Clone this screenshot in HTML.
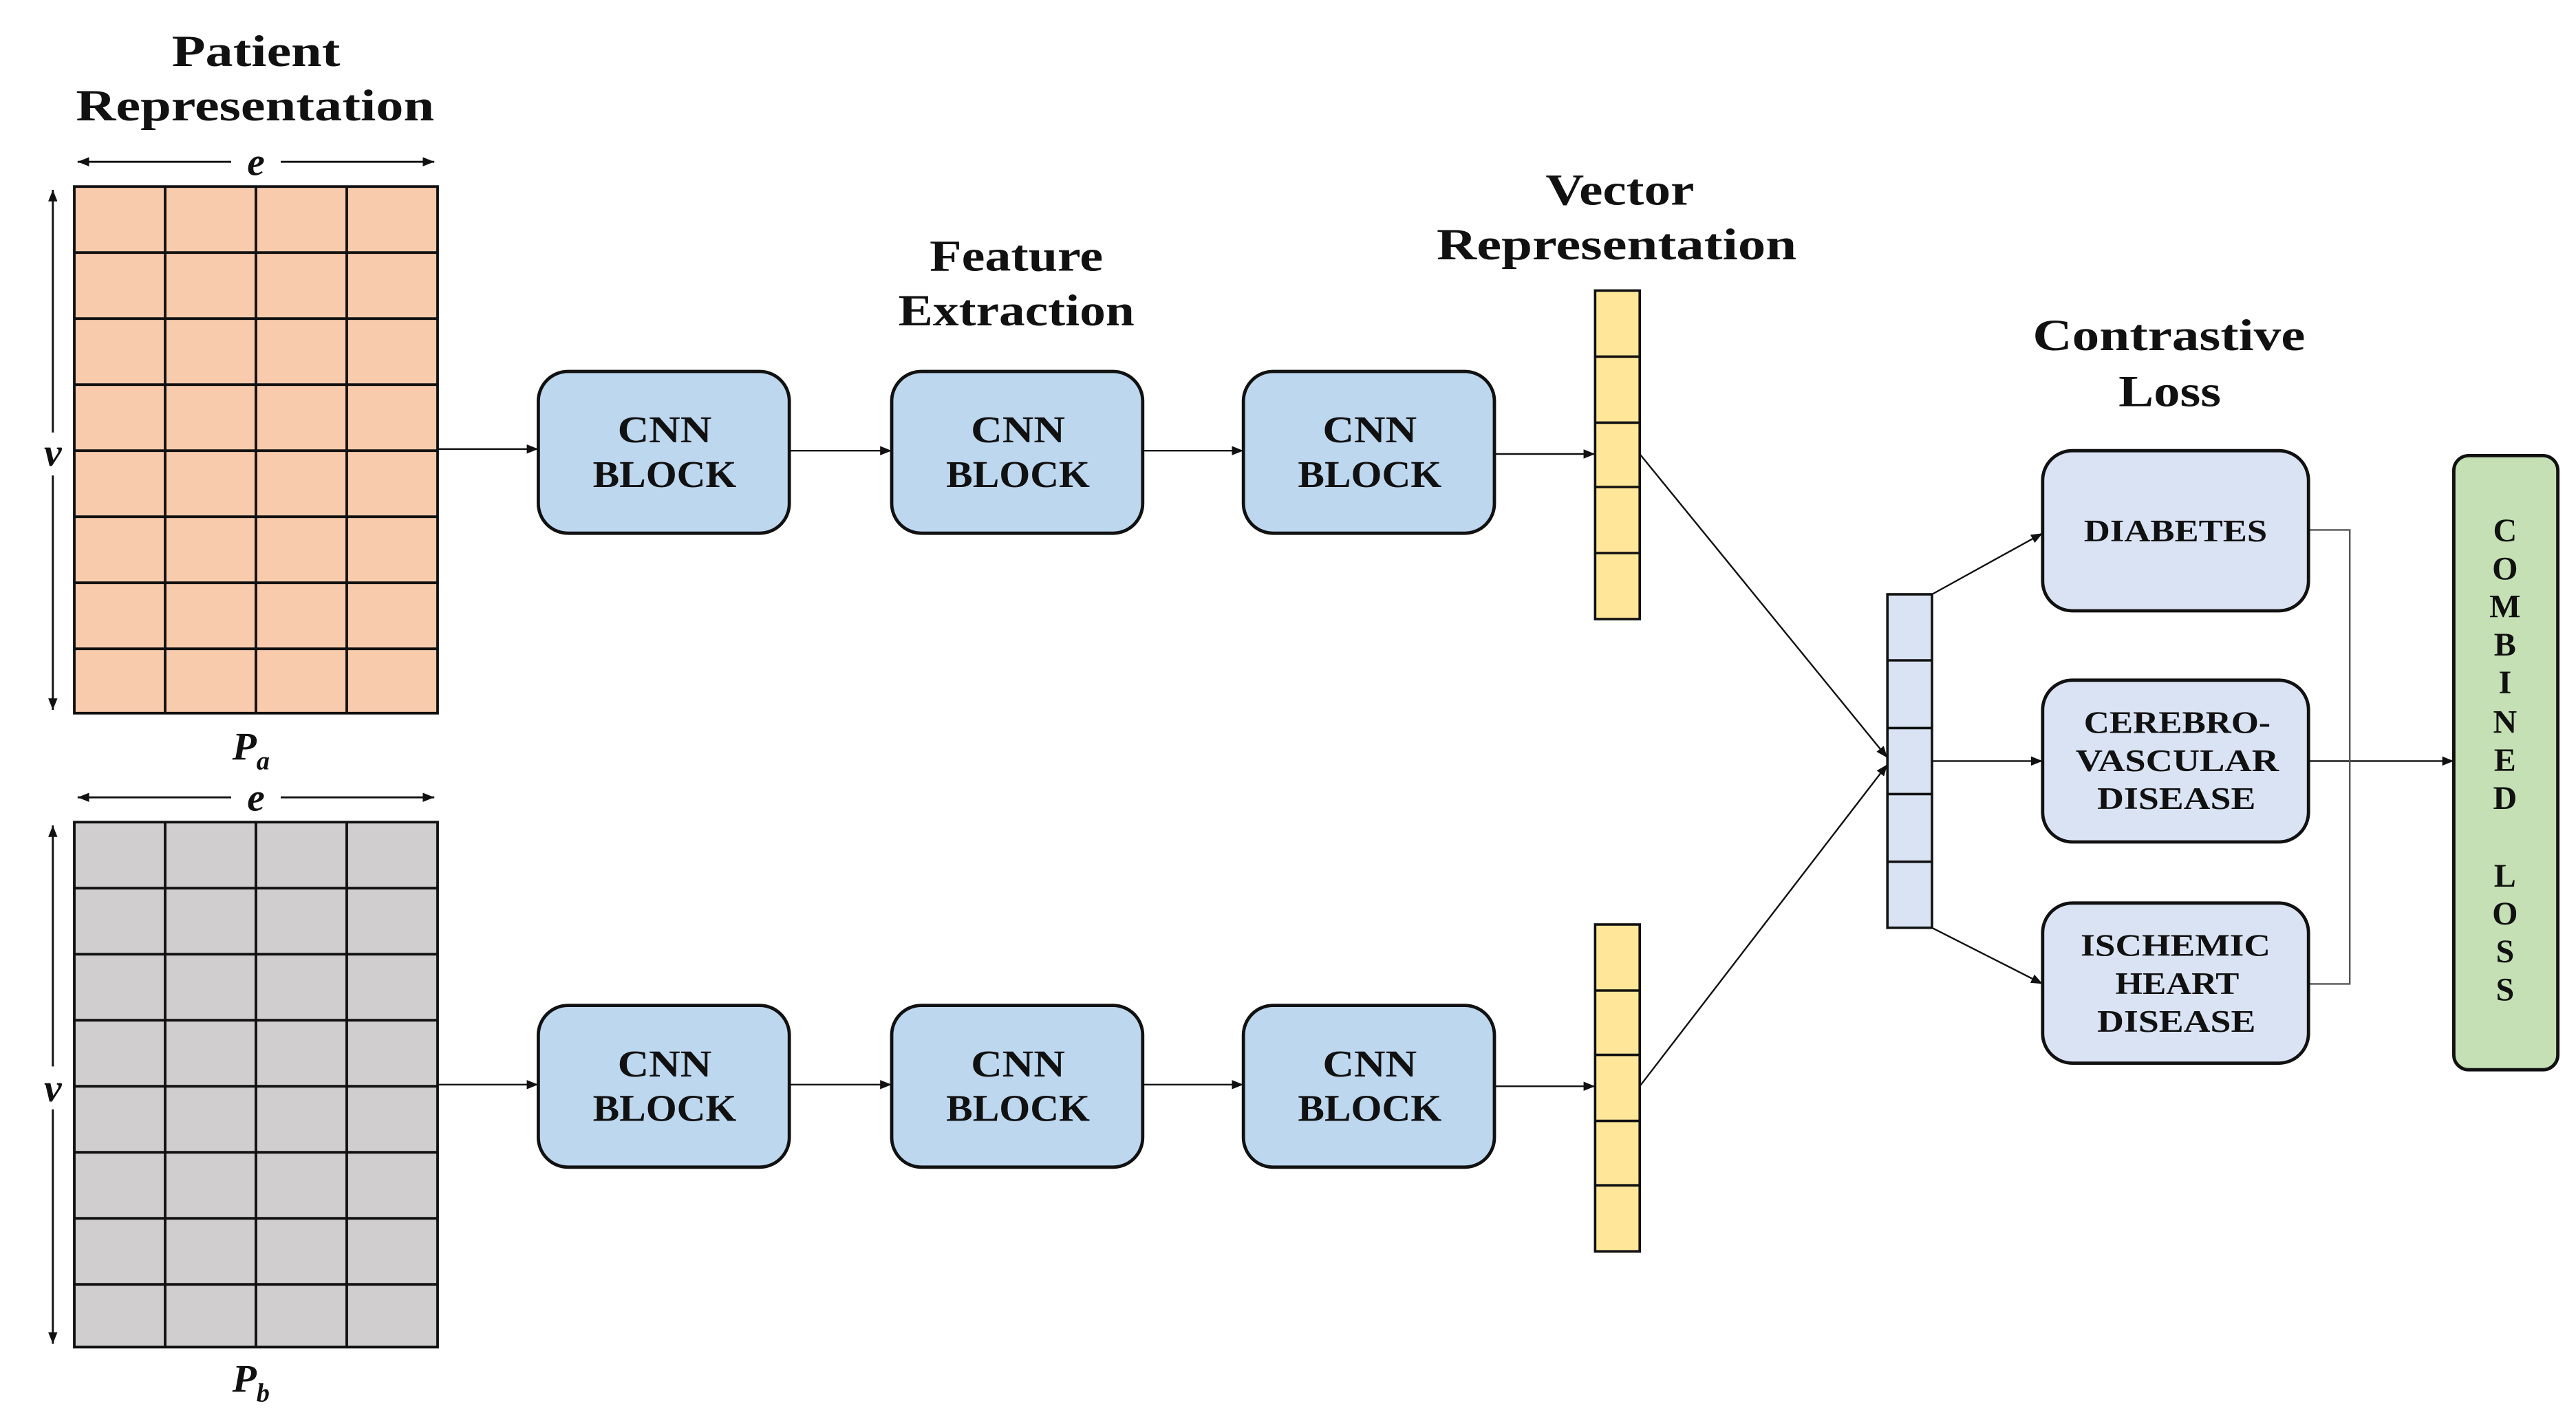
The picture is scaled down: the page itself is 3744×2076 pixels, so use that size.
<!DOCTYPE html>
<html><head><meta charset="utf-8"><style>
html,body{margin:0;padding:0;background:#fff;}
svg{display:block;}
text{font-family:"Liberation Serif",serif;font-weight:bold;fill:#111;}
</style></head><body>
<svg width="3744" height="2076" viewBox="0 0 1560 865" xmlns="http://www.w3.org/2000/svg">
<defs>
<marker id="a" viewBox="0 0 10 10" refX="10" refY="5" markerWidth="7" markerHeight="7" orient="auto-start-reverse" markerUnits="userSpaceOnUse"><path d="M0,1 L10,5 L0,9 z" fill="#111"/></marker>
</defs>
<rect width="1560" height="865" fill="#fff"/>
<g font-size="27" lengthAdjust="spacingAndGlyphs">
<text x="104" y="40" textLength="102" lengthAdjust="spacingAndGlyphs">Patient</text><text x="46" y="73" textLength="217" lengthAdjust="spacingAndGlyphs">Representation</text>
<text x="563" y="164" textLength="105" lengthAdjust="spacingAndGlyphs">Feature</text><text x="544" y="197" textLength="143" lengthAdjust="spacingAndGlyphs">Extraction</text>
<text x="936" y="124" textLength="90" lengthAdjust="spacingAndGlyphs">Vector</text><text x="870" y="157" textLength="218" lengthAdjust="spacingAndGlyphs">Representation</text>
<text x="1231" y="212" textLength="165" lengthAdjust="spacingAndGlyphs">Contrastive</text><text x="1283" y="246" textLength="62" lengthAdjust="spacingAndGlyphs">Loss</text>
</g>
<g stroke="#111" stroke-width="1.6">
<rect x="45" y="113" width="220" height="319" fill="#f8cbad"/>
<path d="M100,113V432M155,113V432M210,113V432M45,153H265M45,193H265M45,233H265M45,273H265M45,313H265M45,353H265M45,393H265" fill="none"/>
<rect x="45" y="498" width="220" height="318" fill="#d0cece"/>
<path d="M100,498V816M155,498V816M210,498V816M45,538H265M45,578H265M45,618H265M45,658H265M45,698H265M45,738H265M45,778H265" fill="none"/>
</g>
<g stroke="#111" stroke-width="1.2" fill="none">
<path d="M47,98H140M170,98H263" marker-start="url(#a)" marker-end="url(#a)"/>
<path d="M47,483H140M170,483H263" marker-start="url(#a)" marker-end="url(#a)"/>
<path d="M32,115V262M32,288V430" marker-start="url(#a)" marker-end="url(#a)"/>
<path d="M32,500V646M32,672V814" marker-start="url(#a)" marker-end="url(#a)"/>
</g>
<g font-size="24" font-style="italic" text-anchor="middle">
<text x="155" y="106">e</text><text x="155" y="491">e</text>
<text x="32" y="282">v</text><text x="32" y="667">v</text>
<text x="152" y="460">P<tspan font-size="16" dy="6">a</tspan></text>
<text x="152" y="843">P<tspan font-size="16" dy="6">b</tspan></text>
</g>
<g fill="#bdd7ee" stroke="#111" stroke-width="2">
<rect x="326" y="225" width="152" height="98" rx="18"/><rect x="540" y="225" width="152" height="98" rx="18"/><rect x="753" y="225" width="152" height="98" rx="18"/>
<rect x="326" y="609" width="152" height="98" rx="18"/><rect x="540" y="609" width="152" height="98" rx="18"/><rect x="753" y="609" width="152" height="98" rx="18"/>
</g>
<g font-size="23">
<text x="374" y="268" textLength="57" lengthAdjust="spacingAndGlyphs">CNN</text><text x="359" y="295" textLength="87" lengthAdjust="spacingAndGlyphs">BLOCK</text>
<text x="588" y="268" textLength="57" lengthAdjust="spacingAndGlyphs">CNN</text><text x="573" y="295" textLength="87" lengthAdjust="spacingAndGlyphs">BLOCK</text>
<text x="801" y="268" textLength="57" lengthAdjust="spacingAndGlyphs">CNN</text><text x="786" y="295" textLength="87" lengthAdjust="spacingAndGlyphs">BLOCK</text>
<text x="374" y="652" textLength="57" lengthAdjust="spacingAndGlyphs">CNN</text><text x="359" y="679" textLength="87" lengthAdjust="spacingAndGlyphs">BLOCK</text>
<text x="588" y="652" textLength="57" lengthAdjust="spacingAndGlyphs">CNN</text><text x="573" y="679" textLength="87" lengthAdjust="spacingAndGlyphs">BLOCK</text>
<text x="801" y="652" textLength="57" lengthAdjust="spacingAndGlyphs">CNN</text><text x="786" y="679" textLength="87" lengthAdjust="spacingAndGlyphs">BLOCK</text>
</g>
<g stroke="#111" stroke-width="1" fill="none" marker-end="url(#a)">
<path d="M265,272H326"/><path d="M478,273H540"/><path d="M692,273H753"/><path d="M905,275H966"/>
<path d="M265,657H326"/><path d="M478,657H540"/><path d="M692,657H753"/><path d="M905,658H966"/>
<path d="M993,275L1143,459"/><path d="M993,658L1143,463"/>
<path d="M1170,360L1237,323"/><path d="M1170,461H1237"/><path d="M1170,562L1237,596"/>
<path d="M1398,461H1486"/>
</g>
<path d="M1398,321H1423V596H1398" stroke="#555" stroke-width="1" fill="none"/>
<g stroke="#111" stroke-width="1.5">
<rect x="966" y="176" width="27" height="199" fill="#ffe699"/>
<path d="M966,216H993M966,256H993M966,295H993M966,335H993"/>
<rect x="966" y="560" width="27" height="198" fill="#ffe699"/>
<path d="M966,600H993M966,639H993M966,679H993M966,718H993"/>
<rect x="1143" y="360" width="27" height="202" fill="#dae3f3"/>
<path d="M1143,400H1170M1143,441H1170M1143,481H1170M1143,522H1170"/>
</g>
<g fill="#dae3f3" stroke="#111" stroke-width="2">
<rect x="1237" y="273" width="161" height="97" rx="18"/>
<rect x="1237" y="412" width="161" height="98" rx="18"/>
<rect x="1237" y="547" width="161" height="97" rx="18"/>
</g>
<g font-size="19">
<text x="1262" y="328" textLength="111" lengthAdjust="spacingAndGlyphs">DIABETES</text>
<text x="1262" y="444" textLength="113" lengthAdjust="spacingAndGlyphs">CEREBRO-</text><text x="1257" y="467" textLength="123" lengthAdjust="spacingAndGlyphs">VASCULAR</text><text x="1270" y="490" textLength="96" lengthAdjust="spacingAndGlyphs">DISEASE</text>
<text x="1260" y="579" textLength="115" lengthAdjust="spacingAndGlyphs">ISCHEMIC</text><text x="1281" y="602" textLength="75" lengthAdjust="spacingAndGlyphs">HEART</text><text x="1270" y="625" textLength="96" lengthAdjust="spacingAndGlyphs">DISEASE</text>
</g>
<rect x="1486" y="276" width="63" height="372" rx="9" fill="#c5e0b4" stroke="#111" stroke-width="2"/>
<g font-size="20" text-anchor="middle" font-weight="normal">
<text x="1517" y="328">C</text><text x="1517" y="351">O</text><text x="1517" y="374">M</text><text x="1517" y="397">B</text><text x="1517" y="420">I</text><text x="1517" y="444">N</text><text x="1517" y="467">E</text><text x="1517" y="490">D</text>
<text x="1517" y="537">L</text><text x="1517" y="560">O</text><text x="1517" y="583">S</text><text x="1517" y="606">S</text>
</g>
</svg>
</body></html>
